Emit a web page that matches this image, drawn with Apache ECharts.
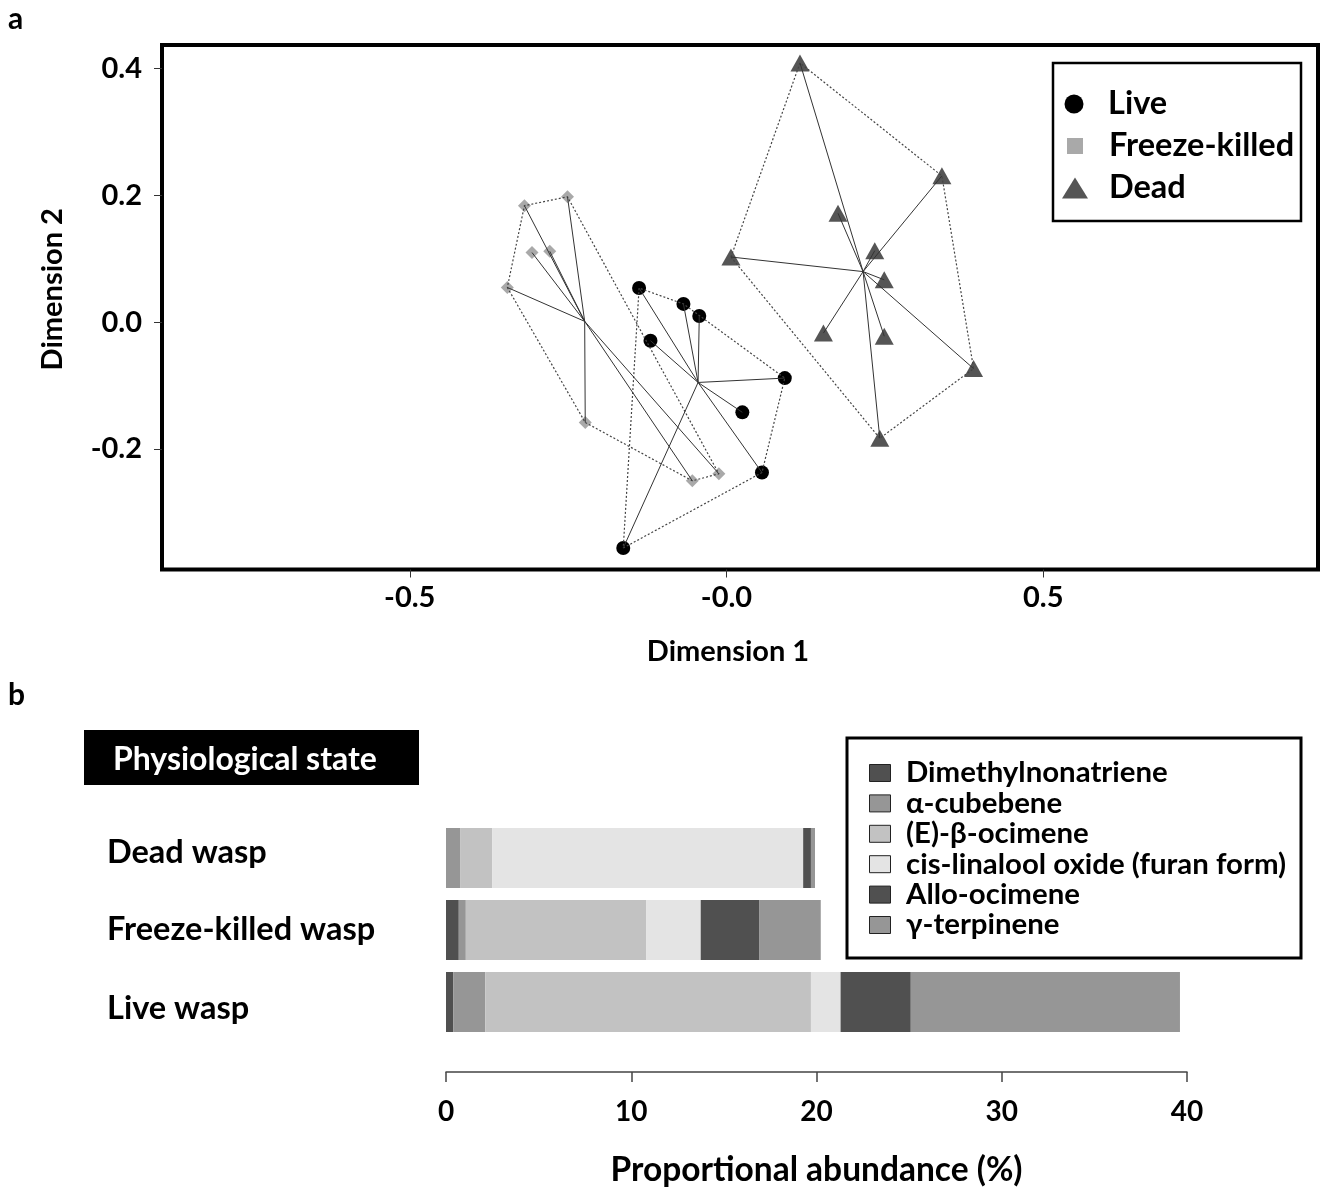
<!DOCTYPE html>
<html><head><meta charset="utf-8">
<script src="https://cdn.jsdelivr.net/npm/echarts@6/dist/echarts.min.js"></script>
<style>html,body{margin:0;padding:0;background:#fff}#c{width:1323px;height:1188px}</style>
</head><body><div id="c"></div>
<script>
// ---- Panel a: NMDS-like ordination ----
const liveX   = [-0.138, -0.068, -0.043, -0.120, 0.092, 0.025, 0.056, -0.163];
const liveY   = [0.054, 0.029, 0.010, -0.029, -0.088, -0.142, -0.237, -0.356];
const freezeX = [-0.319, -0.251, -0.307, -0.279, -0.346, -0.223, -0.054, -0.012];
const freezeY = [0.184, 0.198, 0.110, 0.112, 0.055, -0.158, -0.250, -0.239];
const deadX   = [0.116, 0.340, 0.176, 0.234, 0.249, 0.007, 0.153, 0.249, 0.390, 0.242];
const deadY   = [0.409, 0.231, 0.172, 0.113, 0.067, 0.103, -0.017, -0.022, -0.073, -0.183];
const dimXTicks = [-0.5, 0, 0.5];
const dimYTicks = [-0.2, 0, 0.2, 0.4];

// ---- Panel b: proportional abundance ----
const states = ['Dead wasp', 'Freeze-killed wasp', 'Live wasp'];
const compounds = ['Dimethylnonatriene', 'α-cubebene', '(E)-β-ocimene', 'cis-linalool oxide (furan form)', 'Allo-ocimene', 'γ-terpinene'];
const dimethylnonatriene = [0, 0.69, 0.39];
const aCubebene          = [0.76, 0.38, 1.73];
const eBOcimene          = [1.74, 9.73, 17.58];
const cisLinaloolOxide   = [16.78, 2.95, 1.60];
const alloOcimene        = [0.42, 3.15, 3.79];
const gTerpinene         = [0.22, 3.33, 14.53];
const abundanceTicks = [0, 10, 20, 30, 40];

const FONT = 'Lato';
const compoundValues = [dimethylnonatriene, aCubebene, eBOcimene, cisLinaloolOxide, alloOcimene, gTerpinene];
const compoundColors = ['#505050', '#969696', '#c2c2c2', '#e4e4e4', '#505050', '#969696'];

const pts = (xs, ys) => xs.map((x, i) => [x, ys[i]]);
function hull(p) {
  const s = p.slice().sort((a, b) => a[0] - b[0] || a[1] - b[1]);
  const cross = (o, a, b) => (a[0] - o[0]) * (b[1] - o[1]) - (a[1] - o[1]) * (b[0] - o[0]);
  const lo = [];
  for (const q of s) { while (lo.length >= 2 && cross(lo[lo.length - 2], lo[lo.length - 1], q) <= 0) lo.pop(); lo.push(q); }
  const up = [];
  for (let i = s.length - 1; i >= 0; i--) { const q = s[i]; while (up.length >= 2 && cross(up[up.length - 2], up[up.length - 1], q) <= 0) up.pop(); up.push(q); }
  up.pop(); lo.pop();
  const h = lo.concat(up); h.push(h[0]); return h;
}
function centroid(p) { return [p.reduce((s, q) => s + q[0], 0) / p.length, p.reduce((s, q) => s + q[1], 0) / p.length]; }
function spokes(p) { const c = centroid(p); return p.map(q => ({ coords: [c, q] })); }

const groups = [
  { name: 'Live', p: pts(liveX, liveY), symbol: 'circle', size: 14, color: '#000000' },
  { name: 'Freeze-killed', p: pts(freezeX, freezeY), symbol: 'diamond', size: 13, color: '#a9a9a9' },
  { name: 'Dead', p: pts(deadX, deadY), symbol: 'triangle', size: [19, 17], color: '#555555' }
];

const series = [];
groups.forEach(g => {
  series.push({ type: 'scatter', name: g.name, xAxisIndex: 0, yAxisIndex: 0, data: g.p, symbol: g.symbol, symbolSize: g.size,
    itemStyle: { color: g.color, opacity: 1 }, z: 2, silent: true });
});
groups.forEach(g => {
  series.push({ type: 'line', name: g.name + ' hull', xAxisIndex: 0, yAxisIndex: 0, data: hull(g.p), symbol: 'none', smooth: false,
    lineStyle: { color: '#444', width: 1.2, type: [2, 2] }, z: 3, silent: true });
  series.push({ type: 'lines', name: g.name + ' spokes', coordinateSystem: 'cartesian2d', xAxisIndex: 0, yAxisIndex: 0,
    data: spokes(g.p), lineStyle: { color: '#333', width: 1, opacity: 1, curveness: 0 }, z: 4, silent: true });
});
compounds.forEach((c, i) => {
  series.push({ type: 'bar', name: c, stack: 'total', xAxisIndex: 1, yAxisIndex: 1, data: compoundValues[i], barWidth: 60,
    itemStyle: { color: compoundColors[i] }, silent: true });
});

const bold = (size, extra) => Object.assign({ fontFamily: FONT, fontWeight: 'bold', fontSize: size, color: '#000' }, extra || {});
const legendA = (name, icon, h, left, top) => ({
  data: [{ name: name, icon: icon }], orient: 'vertical', left: left, top: top, padding: 0,
  itemWidth: 58, itemHeight: h, selectedMode: false, textStyle: bold(32.5, { lineHeight: 34 })
});
const catShift = [{ padding: [0, 0, 10, 0] }, { padding: [0, 0, 0, 0] }, { padding: [14, 0, 0, 0] }];

const option = {
  animation: false,
  backgroundColor: '#fff',
  grid: [
    { left: 162, top: 45, width: 1156, height: 524.5, show: true, borderColor: '#000', borderWidth: 4, backgroundColor: 'transparent', containLabel: false, outerBoundsMode: 'none' },
    { left: 446, right: 136, top: 822, bottom: 150, containLabel: false, outerBoundsMode: 'none' }
  ],
  xAxis: [
    { type: 'value', gridIndex: 0, min: -0.8911, max: 0.9337,
      axisLine: { show: false, onZero: false }, splitLine: { show: false },
      axisTick: { show: true, customValues: dimXTicks, length: 8, lineStyle: { color: '#333', width: 1 } },
      axisLabel: { customValues: dimXTicks, margin: 14, formatter: v => (v === 0 ? '-0.0' : v.toFixed(1)), ...bold(29) },
      name: 'Dimension 1', nameLocation: 'middle', nameGap: 68, nameTextStyle: bold(29, { padding: [0, 24, 0, 0] }) },
    { type: 'value', gridIndex: 1, min: 0, max: 40, interval: 10, offset: 34,
      axisLine: { show: true, onZero: false, lineStyle: { color: '#444', width: 1.5 } }, splitLine: { show: false },
      axisTick: { show: true, length: 10, lineStyle: { color: '#444', width: 1.5 } },
      axisLabel: { margin: 26, formatter: v => (abundanceTicks.indexOf(v) >= 0 ? String(v) : ''), ...bold(28) },
      name: 'Proportional abundance (%)', nameLocation: 'middle', nameGap: 81, nameTextStyle: bold(33.5) }
  ],
  yAxis: [
    { type: 'value', gridIndex: 0, min: -0.3899, max: 0.4374,
      axisLine: { show: false, onZero: false }, splitLine: { show: false },
      axisTick: { show: true, customValues: dimYTicks, length: 8, lineStyle: { color: '#333', width: 1 } },
      axisLabel: { customValues: dimYTicks, margin: 20, formatter: v => v.toFixed(1), ...bold(29) },
      name: 'Dimension 2', nameLocation: 'middle', nameGap: 95, nameTextStyle: bold(29, { padding: [0, 0, 0, 36] }) },
    { type: 'category', gridIndex: 1, data: states, inverse: true,
      axisLine: { show: false, onZero: false }, axisTick: { show: false }, splitLine: { show: false },
      axisLabel: { align: 'left', margin: 339, ...bold(32.5),
        formatter: (v, i) => '{s' + i + '|' + v + '}',
        rich: { s0: bold(32.5, catShift[0]), s1: bold(32.5, catShift[1]), s2: bold(32.5, catShift[2]) } } }
  ],
  legend: [
    legendA('Live', 'circle', 19, 1064.5, 87),
    legendA('Freeze-killed', 'path://M0,0H10V10H0Z', 16, 1067, 129),
    legendA('Dead', 'path://M13,0L26,21L0,21Z', 21, 1062, 171),
    { data: compounds, orient: 'vertical', left: 869, top: 758, padding: 0, itemWidth: 42, itemHeight: 17, itemGap: 0.4,
      icon: 'path://M0,0H21V17H0Z', selectedMode: false, itemStyle: { borderColor: '#222', borderWidth: 1 },
      textStyle: bold(29.4, { lineHeight: 30 }) }
  ],
  graphic: [
    { type: 'text', left: 8, top: 4, style: { text: 'a', font: 'bold 30px ' + FONT, fill: '#000' } },
    { type: 'text', left: 8, top: 680, style: { text: 'b', font: 'bold 30px ' + FONT, fill: '#000' } },
    { type: 'rect', shape: { x: 1053, y: 63, width: 248, height: 158 }, style: { fill: 'none', stroke: '#000', lineWidth: 2.5 } },
    { type: 'rect', shape: { x: 847, y: 738, width: 454, height: 220 }, style: { fill: 'none', stroke: '#000', lineWidth: 3 } },
    { type: 'rect', shape: { x: 84, y: 730, width: 335, height: 55 }, style: { fill: '#000' } },
    { type: 'text', x: 113, y: 760, style: { text: 'Physiological state', font: 'bold 32px ' + FONT, fill: '#fff', verticalAlign: 'middle', align: 'left' } }
  ],
  series: series
};

const chart = echarts.init(document.getElementById('c'), null, { renderer: 'canvas' });
chart.setOption(option);
</script>
</body></html>
